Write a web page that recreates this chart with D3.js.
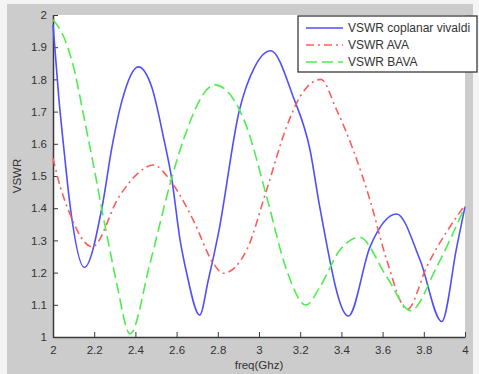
<!DOCTYPE html>
<html>
<head>
<meta charset="utf-8">
<script src="https://cdn.jsdelivr.net/npm/d3@7"></script>
<style>
  body { margin: 0; background: #f4f4f4; }
  svg { display: block; font-family: "Liberation Sans", Arial, sans-serif; }
</style>
</head>
<body>
<div id="chart"></div>
<script>
// values
const xTicks = [2, 2.2, 2.4, 2.6, 2.8, 3, 3.2, 3.4, 3.6, 3.8, 4];
const yTicks = [1, 1.1, 1.2, 1.3, 1.4, 1.5, 1.6, 1.7, 1.8, 1.9, 2];
const seriesNames = ["VSWR coplanar vivaldi", "VSWR AVA", "VSWR BAVA"];

const blueFreq = [2.00, 2.028, 2.052, 2.084, 2.152, 2.238, 2.286, 2.335, 2.414, 2.48, 2.539, 2.576, 2.617, 2.649, 2.712, 2.754, 2.803, 2.905, 2.98, 3.057, 3.166, 3.248, 3.296, 3.434, 3.539, 3.668, 3.782, 3.887, 3.96, 4.00];
const blueVswr = [1.97, 1.744, 1.589, 1.403, 1.216, 1.403, 1.589, 1.734, 1.839, 1.775, 1.612, 1.493, 1.301, 1.198, 1.068, 1.177, 1.322, 1.705, 1.84, 1.889, 1.746, 1.58, 1.40, 1.065, 1.28, 1.382, 1.239, 1.048, 1.28, 1.405];

const redFreq = [2.00, 2.036, 2.076, 2.19, 2.319, 2.408, 2.487, 2.576, 2.681, 2.778, 2.827, 2.94, 3.037, 3.134, 3.199, 3.30, 3.377, 3.458, 3.539, 3.62, 3.72, 3.814, 4.00];
const redVswr = [1.555, 1.465, 1.392, 1.28, 1.434, 1.506, 1.534, 1.48, 1.363, 1.229, 1.198, 1.27, 1.457, 1.653, 1.746, 1.80, 1.705, 1.58, 1.425, 1.239, 1.086, 1.218, 1.41];

const greenFreq = [2.00, 2.06, 2.108, 2.141, 2.173, 2.205, 2.235, 2.27, 2.309, 2.374, 2.471, 2.576, 2.633, 2.786, 2.94, 3.037, 3.134, 3.228, 3.296, 3.393, 3.487, 3.62, 3.736, 3.863, 4.00];
const greenVswr = [1.985, 1.92, 1.817, 1.713, 1.61, 1.506, 1.403, 1.29, 1.167, 1.01, 1.229, 1.493, 1.612, 1.783, 1.653, 1.436, 1.208, 1.099, 1.156, 1.27, 1.31, 1.187, 1.082, 1.218, 1.405];

const series = [
  { name: seriesNames[0], freq: blueFreq, vswr: blueVswr, color: "#4f4fff", dash: null },
  { name: seriesNames[1], freq: redFreq, vswr: redVswr, color: "#ff5c5c", dash: "8,4,2,4" },
  { name: seriesNames[2], freq: greenFreq, vswr: greenVswr, color: "#4fee4f", dash: "11,5" }
];

const W = 479, H = 374;
const plot = { left: 53, right: 465, top: 15, bottom: 337 };

const svg = d3.select("#chart").append("svg")
  .attr("width", W)
  .attr("height", H);

// grey figure panel
svg.append("rect")
  .attr("x", 7).attr("y", 4)
  .attr("width", 466).attr("height", H - 4)
  .attr("fill", "#cccccc");

svg.append("rect")
  .attr("x", plot.left).attr("y", plot.top)
  .attr("width", plot.right - plot.left).attr("height", plot.bottom - plot.top)
  .attr("fill", "#ffffff");

const x = d3.scaleLinear().domain([2, 4]).range([plot.left, plot.right]);
const y = d3.scaleLinear().domain([1, 2]).range([plot.bottom, plot.top]);

const xAxis = svg.append("g")
  .attr("transform", `translate(0,${plot.bottom})`)
  .call(d3.axisBottom(x).tickValues(xTicks).tickSizeInner(-5).tickSizeOuter(0).tickPadding(9).tickFormat(d3.format("")));
const yAxis = svg.append("g")
  .attr("transform", `translate(${plot.left},0)`)
  .call(d3.axisLeft(y).tickValues(yTicks).tickSizeInner(-5).tickSizeOuter(0).tickPadding(6).tickFormat(d3.format("")));

[xAxis, yAxis].forEach(g => {
  g.select(".domain").attr("stroke", "#3a3a3a").attr("stroke-width", 1.5);
  g.selectAll(".tick line").attr("stroke", "#3a3a3a");
  g.selectAll(".tick text").attr("fill", "#333").attr("font-size", 11.5);
});

const line = d3.line()
  .x(d => x(d[0]))
  .y(d => y(d[1]))
  .curve(d3.curveMonotoneX);

series.forEach(s => {
  svg.append("path")
    .datum(s.freq.map((f, i) => [f, s.vswr[i]]))
    .attr("fill", "none")
    .attr("stroke", s.color)
    .attr("stroke-width", 1.6)
    .attr("stroke-dasharray", s.dash)
    .attr("d", line);
});

svg.append("text")
  .attr("x", (plot.left + plot.right) / 2)
  .attr("y", 369)
  .attr("text-anchor", "middle")
  .attr("font-size", 11.5)
  .attr("fill", "#333")
  .text("freq(Ghz)");

svg.append("text")
  .attr("transform", `translate(21,${(plot.top + plot.bottom) / 2}) rotate(-90)`)
  .attr("text-anchor", "middle")
  .attr("font-size", 11.5)
  .attr("fill", "#333")
  .text("VSWR");

// legend
const legend = svg.append("g").attr("transform", "translate(298,16)");
legend.append("rect")
  .attr("width", 179).attr("height", 56)
  .attr("fill", "#fff")
  .attr("stroke", "#3a3a3a")
  .attr("stroke-width", 1.3);

series.forEach((s, i) => {
  const ly = 12 + i * 17;
  legend.append("line")
    .attr("x1", 8).attr("x2", 45)
    .attr("y1", ly).attr("y2", ly)
    .attr("stroke", s.color)
    .attr("stroke-width", 1.6)
    .attr("stroke-dasharray", s.dash);
  legend.append("text")
    .attr("x", 50).attr("y", ly + 4)
    .attr("font-size", 12)
    .attr("fill", "#333")
    .text(s.name);
});
</script>
</body>
</html>
